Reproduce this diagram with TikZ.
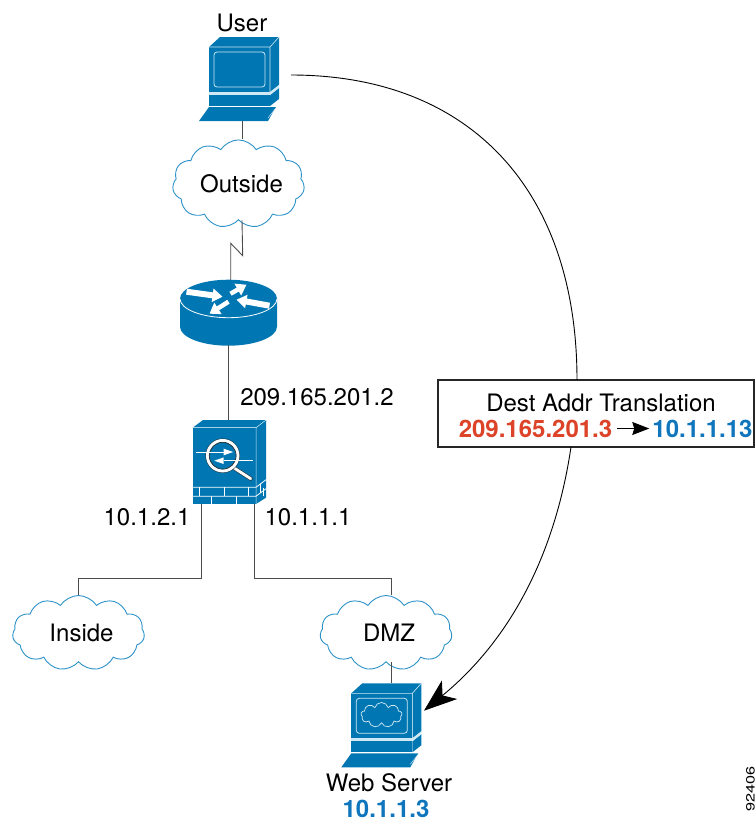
\documentclass[tikz,border=0pt]{standalone}
\usepackage{fontspec}
\setmainfont{TeX Gyre Heros}
\usetikzlibrary{arrows.meta,shapes.symbols}
\definecolor{ciscoblue}{HTML}{0077B3}
\definecolor{cloudblue}{HTML}{2C92C8}
\definecolor{palecyan}{HTML}{CFE8F4}
\definecolor{addrred}{HTML}{DC4328}
\definecolor{addrblue}{HTML}{0F75BC}
\newcommand{\cloudtext}[1]{\hspace*{6pt}#1}
\tikzset{
  link/.style={draw=black!70,line width=0.9pt},
  curveline/.style={draw=black,line width=0.9pt},
  label/.style={font=\fontsize{24}{26}\selectfont,inner sep=0pt},
  addr/.style={font=\fontsize{24}{26}\selectfont\bfseries,inner sep=0pt},
  netcloud/.style={cloud,cloud puffs=11,cloud puff arc=115,aspect=1.75,draw=cloudblue,line width=0.9pt,
    fill=white,minimum width=132pt,minimum height=75pt,inner sep=0pt,font=\fontsize{24}{26}\selectfont},
  slot/.style={inner sep=0pt,minimum width=#1},
  pcbox/.pic={
    \fill[ciscoblue] (0,0) -- (11,-10) -- (70,-10) -- (61,0) -- cycle;
    \fill[ciscoblue] (61,0) -- (70,-10) -- (70,38) -- (61,45) -- cycle;
    \fill[ciscoblue] (0,0) rectangle (61,45);
    \draw[palecyan,line width=0.6pt] (0,0) -- (61,0) -- (70,-10) (61,0) -- (61,45);
    \draw[palecyan,line width=0.8pt,rounded corners=3pt] (5,5) rectangle (56,40);
    \fill[ciscoblue] (0,48) rectangle (61,59);
    \fill[ciscoblue] (61,48) -- (70,41) -- (70,52) -- (61,59) -- cycle;
    \fill[palecyan] (0,45) rectangle (61,48);
    \fill[palecyan] (61,45) -- (70,38) -- (70,41) -- (61,48) -- cycle;
    \fill[ciscoblue] (-10,74) -- (0,60) -- (67,60) -- (64,65) -- (59,74) -- cycle;
    \draw[palecyan,line width=0.5pt] (59,71) -- (66,62);
  },
  routerbox/.pic={
    \fill[ciscoblue] (-48.5,0) -- (-48.5,28) arc[start angle=180,end angle=360,x radius=48.5,y radius=-19]
      -- (48.5,0) -- cycle;
    \fill[ciscoblue] (0,0) ellipse[x radius=48.5,y radius=19];
    \draw[white,line width=0.8pt] (-48.5,0) arc[start angle=180,end angle=360,x radius=48.5,y radius=-19];
    \foreach \ax/\ay/\bx/\by/\wd in {-42/-7/-6/-2/6, 2/-5/18/-14/4.5, 41/7/8/1/6, 0/3/-19/15/4.5}
      \draw[white,line width=\wd pt,-{Triangle[length=10pt,width=13pt]}] (\ax,\ay) -- (\bx,\by);
  },
  firewallbox/.pic={
    \fill[ciscoblue] (0,0) -- (10.3,-7.7) -- (73.3,-7.7) -- (63.3,0) -- cycle;
    \fill[ciscoblue] (63.3,0) -- (73.3,-7.7) -- (73.3,70) -- (63.3,76.3) -- cycle;
    \fill[ciscoblue] (0,0) rectangle (63.3,76.3);
    \draw[palecyan,line width=0.5pt] (0,0) -- (63.3,0) -- (73.3,-7.7) (63.3,0) -- (63.3,76.3);
    % bricks
    \draw[white,line width=0.8pt] (0,59.6) -- (63.3,59.6) -- (73.3,52) (0,68.5) -- (63.3,68.5) -- (73.3,61);
    \foreach \bx in {7,31.6,56} \draw[white,line width=0.8pt] (\bx,59.6) -- (\bx,68.5);
    \foreach \bx in {19,43.7} \draw[white,line width=0.8pt] (\bx,68.5) -- (\bx,76.3);
    \draw[white,line width=0.6pt] (68,56) -- (68,65) (71,60) -- (71,68);
    \draw[black!80,line width=4pt,line cap=round] (41,40) -- (58,51);
    \draw[white,line width=2.8pt,line cap=round] (41,40) -- (58,51);
    \draw[black!80,fill=ciscoblue,line width=0.5pt] (30,28) circle[radius=17];
    \draw[white,line width=3pt] (30,28) circle[radius=15.2];
    \draw[black!80,line width=0.7pt] (30,28) circle[radius=13.4];
    \draw[white,line width=1pt] (3.5,24.3) -- (32,24.3);
    \fill[white] (31,21) -- (40.5,24.3) -- (31,27.6) -- cycle;
    \draw[white,line width=1pt] (60,33) -- (31,33);
    \fill[white] (31,29.7) -- (21.5,33) -- (31,36.3) -- cycle;
  },
}
\begin{document}
\begin{tikzpicture}[x=1pt,y=-1pt]
\useasboundingbox (0,0) rectangle (755,820);
% hosts and boxes
\pic at (209,47) {pcbox};
\pic at (351.3,693.3) {pcbox};
\pic at (228.5,298.7) {routerbox};
\pic at (192.7,427.7) {firewallbox};
\node (webcloud) [cloud,cloud puffs=9,aspect=1.7,draw=palecyan,line width=0.7pt,minimum width=41pt,minimum height=25pt,inner sep=0pt] at (381.5,715) {};
\node (user) [slot=86pt,minimum height=84pt] at (242,79) {};
\node (router) [slot=97pt,minimum height=65pt] at (228.5,312.5) {};
\node (firewall) [slot=73pt,minimum height=84pt] at (229.3,462) {};
\node (web) [slot=100pt,minimum height=84pt] at (391,725) {};
% clouds
\node (outside) [netcloud] at (238.5,184) {\cloudtext{Outside}};
\node (inside) [netcloud] at (78.5,633) {\cloudtext{Inside}};
\node (dmz) [netcloud] at (386,633) {\cloudtext{DMZ}};
% labels
\node (userlabel) [label] at (242,22.5) {User};
\node (wanaddr) [label] at (317,397) {209.165.201.2};
\node (inaddr) [label] at (147,517) {10.1.2.1};
\node (dmzaddr) [label] at (308,517) {10.1.1.1};
\node (weblabel) [label] at (389,783) {Web Server};
\node (webaddr) [addr,text=addrblue] at (386,809) {10.1.1.3};
\node (figid) [rotate=90,xscale=1.35,inner sep=0pt,font=\fontsize{12}{14}\selectfont] at (750.5,789) {92406};
% translation box
\node (xlate) [draw=black!85,line width=1.1pt,fill=white,minimum width=316pt,minimum height=67pt,inner sep=0pt] at (596,413.5) {};
\node (xlatetitle) [label] at (601,403) {Dest Addr Translation};
\node (oldaddr) [addr,text=addrred] at (535.5,428.5) {209.165.201.3};
\node (newaddr) [addr,text=addrblue] at (702.5,428.5) {10.1.1.13};
\draw[black,line width=0.9pt,-{Stealth[length=17pt,width=13pt,inset=2pt]},shorten <=5pt,shorten >=3pt] (oldaddr) -- (newaddr);
% connectors
\coordinate (boltA) at (242.7,255.7);
\coordinate (boltB) at (230.7,243.3);
\coordinate (fwleft) at (201,504);
\coordinate (fwright) at (254,504);
\coordinate (dmztop) at (391,595);
\coordinate (usertail) at (291,75);
\coordinate (xlatein) at (577,380);
\coordinate (xlateout) at (571,447);
\coordinate (webhead) at (424,710.7);
\draw[link] (user.south) -- (user.south |- outside.north);
\draw[link] (user.south |- outside.south) -- (boltA) -- (boltB) -- (boltB |- router.north);
\draw[link] (router.south) -- (router.south |- firewall.north);
\draw[link] (fwleft) -- ++(0,74) -| (inside.north);
\draw[link] (fwright) -- ++(0,74) -| (dmztop);
\draw[link] (web.north |- dmz.south) -- (web.north);
\draw[curveline] (usertail) .. controls (470,75) and (577,190) .. (xlatein);
\draw[curveline,-{Stealth[length=33pt,width=24pt,inset=9pt]}] (xlateout) .. controls (555,555) and (510,640) .. (webhead);
\end{tikzpicture}
\end{document}
